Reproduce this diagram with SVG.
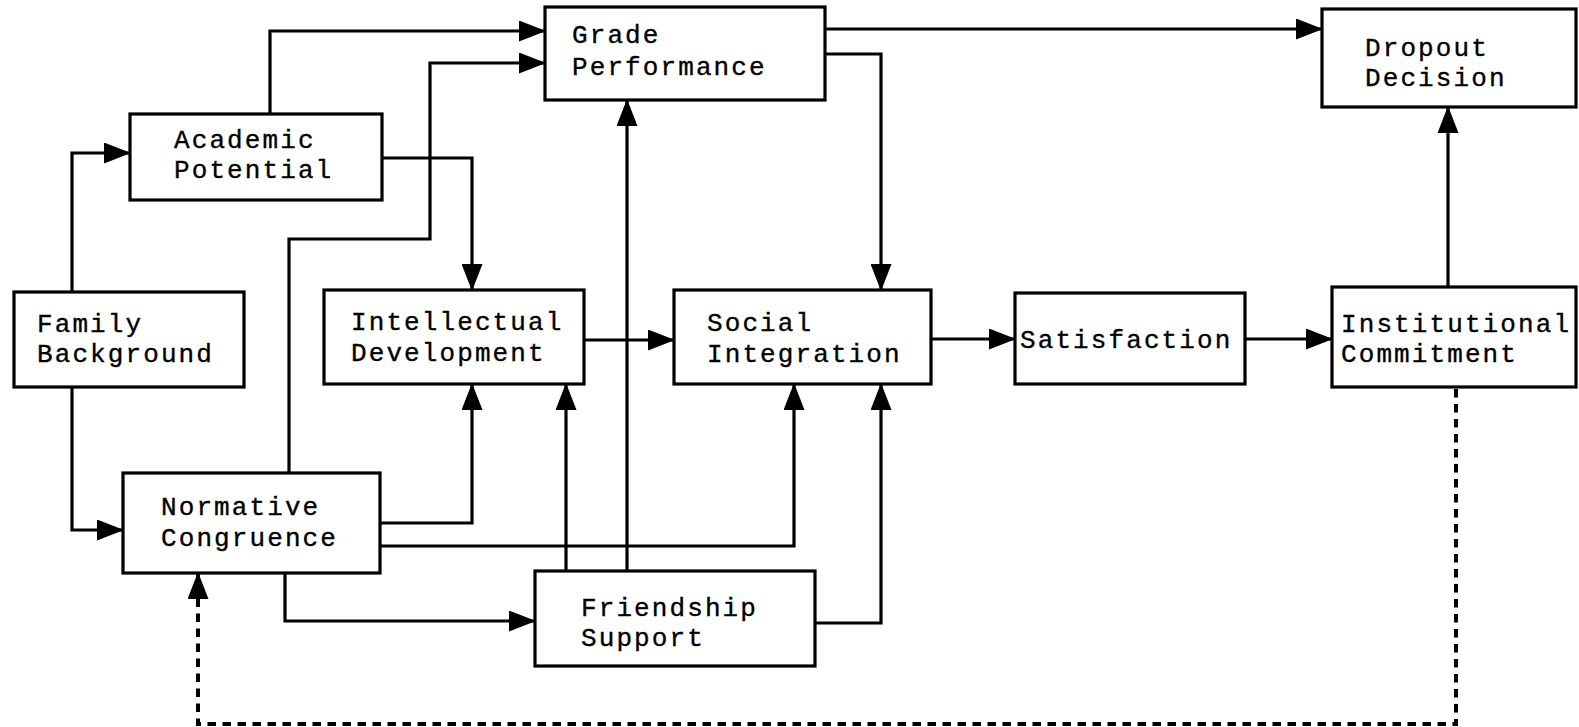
<svg xmlns="http://www.w3.org/2000/svg" width="1579" height="727" viewBox="0 0 1579 727">
  <style>
    .box { fill: #fff; stroke: #000; stroke-width: 3.2; }
    .lbl { font-family: "Liberation Mono", "Courier New", monospace; font-size: 26px; letter-spacing: 2.1px; fill: #000; stroke: #000; stroke-width: 0.35; }
    .wire { fill: none; stroke: #000; stroke-width: 3.2; stroke-linejoin: miter; marker-end: url(#arrow); }
    .dash { stroke-dasharray: 8.5 6.5; stroke-width: 4; }
  </style>
  <defs>
    <marker id="arrow" markerUnits="userSpaceOnUse" markerWidth="27" markerHeight="21" refX="26" refY="10.5" orient="auto">
      <path d="M0,0 L27,10.5 L0,21 Z" fill="#000"/>
    </marker>
  </defs>
  <rect width="1579" height="727" fill="#fff"/>

  <!-- connectors -->
  <g id="connectors">
    <path class="wire" d="M72,292 V153 H130"/>
    <path class="wire" d="M72,387 V530 H123"/>
    <path class="wire" d="M270,114 V31 H545"/>
    <path class="wire" d="M382,158 H472 V290"/>
    <path class="wire" d="M289,473 V239 H430 V63 H545"/>
    <path class="wire" d="M380,523 H472 V384"/>
    <path class="wire" d="M380,546 H794 V384"/>
    <path class="wire" d="M285,573 V621 H535"/>
    <path class="wire" d="M566,571 V384"/>
    <path class="wire" d="M627,571 V100"/>
    <path class="wire" d="M815,623 H881 V384"/>
    <path class="wire" d="M584,340 H674"/>
    <path class="wire" d="M825,54 H881 V290"/>
    <path class="wire" d="M825,29 H1322"/>
    <path class="wire" d="M931,339 H1015"/>
    <path class="wire" d="M1245,339 H1332"/>
    <path class="wire" d="M1448,287 V107"/>
    <path class="wire dash" d="M1456,389 V724 H198 V573"/>
  </g>

  <g id="grade-performance">
    <rect class="box" x="545" y="7" width="280" height="93"/>
    <text class="lbl" x="572" y="43">Grade</text>
    <text class="lbl" x="572" y="75">Performance</text>
  </g>
  <g id="dropout-decision">
    <rect class="box" x="1322" y="9" width="254" height="98"/>
    <text class="lbl" x="1365" y="56">Dropout</text>
    <text class="lbl" x="1365" y="86">Decision</text>
  </g>
  <g id="academic-potential">
    <rect class="box" x="130" y="114" width="252" height="86"/>
    <text class="lbl" x="174" y="148">Academic</text>
    <text class="lbl" x="174" y="178">Potential</text>
  </g>
  <g id="family-background">
    <rect class="box" x="14" y="292" width="230" height="95"/>
    <text class="lbl" x="37" y="332">Family</text>
    <text class="lbl" x="37" y="362">Background</text>
  </g>
  <g id="intellectual-development">
    <rect class="box" x="324" y="290" width="260" height="94"/>
    <text class="lbl" x="351" y="330">Intellectual</text>
    <text class="lbl" x="351" y="361">Development</text>
  </g>
  <g id="social-integration">
    <rect class="box" x="674" y="290" width="257" height="94"/>
    <text class="lbl" x="707" y="331">Social</text>
    <text class="lbl" x="707" y="362">Integration</text>
  </g>
  <g id="satisfaction">
    <rect class="box" x="1015" y="293" width="230" height="91"/>
    <text class="lbl" x="1020" y="348">Satisfaction</text>
  </g>
  <g id="institutional-commitment">
    <rect class="box" x="1332" y="287" width="244" height="100"/>
    <text class="lbl" x="1341" y="332">Institutional</text>
    <text class="lbl" x="1341" y="362">Commitment</text>
  </g>
  <g id="normative-congruence">
    <rect class="box" x="123" y="473" width="257" height="100"/>
    <text class="lbl" x="161" y="515">Normative</text>
    <text class="lbl" x="161" y="546">Congruence</text>
  </g>
  <g id="friendship-support">
    <rect class="box" x="535" y="571" width="280" height="95"/>
    <text class="lbl" x="581" y="616">Friendship</text>
    <text class="lbl" x="581" y="646">Support</text>
  </g>
</svg>
